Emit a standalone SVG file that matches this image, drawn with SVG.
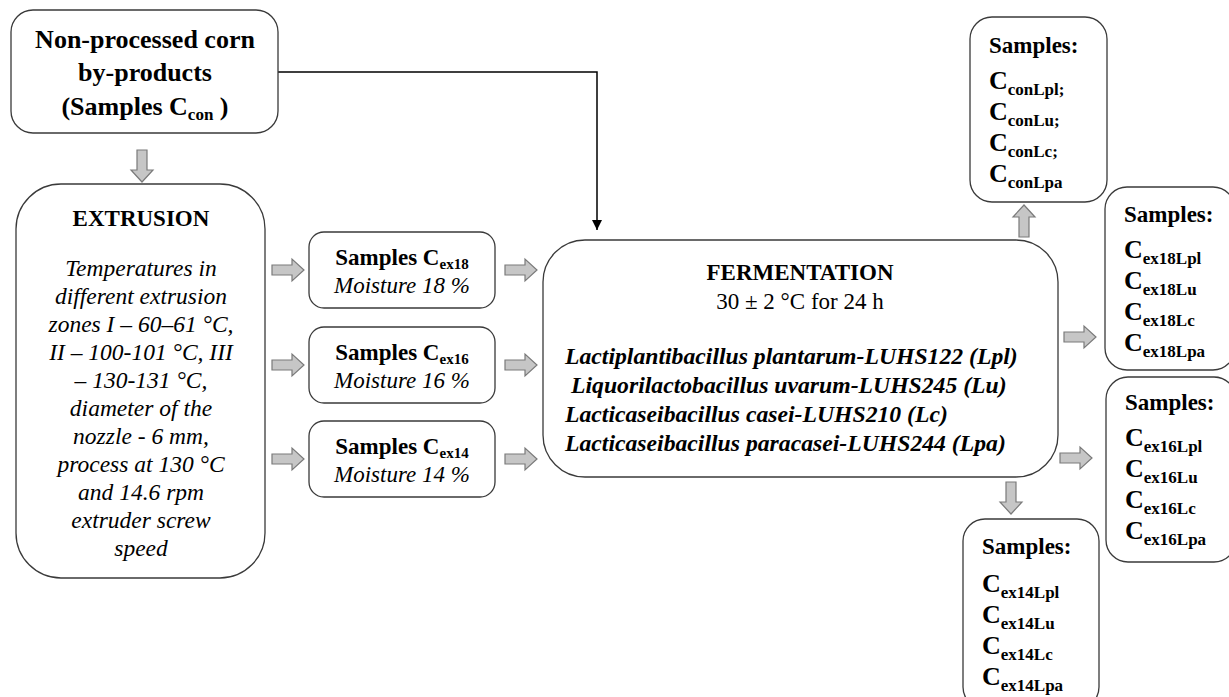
<svg xmlns="http://www.w3.org/2000/svg" width="1229" height="697" viewBox="0 0 1229 697" font-family="Liberation Serif, serif">
<defs>
<style>
.box{fill:#fff;stroke:#3a3a3a;stroke-width:1.3}
.blk{fill:#c6c6c6;stroke:#7a7a7a;stroke-width:1.2}
.b{font-weight:bold}
.i{font-style:italic}
.c{text-anchor:middle}
.conn{fill:none;stroke:#000;stroke-width:1.5}
</style>
<path id="ra" d="M0,-5 H20 V-11 L32,0 L20,11 V5 H0 Z"/>
<marker id="ah" markerWidth="12" markerHeight="12" refX="10" refY="6" orient="auto" markerUnits="userSpaceOnUse">
<path d="M0,1 L10,6 L0,11 Z" fill="#000"/>
</marker>
</defs>
<rect width="1229" height="697" fill="#fff"/>

<g id="connectors">
<path class="conn" d="M278,72 H597 V230" marker-end="url(#ah)"/>
<use href="#ra" class="blk" transform="translate(142,150) rotate(90)"/>
<use href="#ra" class="blk" transform="translate(272,270)"/>
<use href="#ra" class="blk" transform="translate(272,365)"/>
<use href="#ra" class="blk" transform="translate(272,459)"/>
<use href="#ra" class="blk" transform="translate(505,270)"/>
<use href="#ra" class="blk" transform="translate(505,365)"/>
<use href="#ra" class="blk" transform="translate(505,459)"/>
<use href="#ra" class="blk" transform="translate(1024,237) rotate(-90)"/>
<use href="#ra" class="blk" transform="translate(1064,337)"/>
<use href="#ra" class="blk" transform="translate(1060,458)"/>
<use href="#ra" class="blk" transform="translate(1011,482) rotate(90)"/>
</g>

<g id="node-noncorn">
<rect class="box" x="11" y="10" width="267" height="123" rx="22"/>
<text class="b c" font-size="26" x="145" y="48">Non-processed corn</text>
<text class="b c" font-size="26" x="145" y="81">by-products</text>
<text class="b c" font-size="26" x="145" y="115">(Samples C<tspan font-size="17" dy="5">con</tspan><tspan dy="-5"> )</tspan></text>
</g>

<g id="node-extrusion">
<rect class="box" x="16" y="184" width="249" height="394" rx="45"/>
<text class="b c" font-size="23" x="141" y="226">EXTRUSION</text>
<g class="i c" font-size="23.5">
<text x="141" y="276">Temperatures in</text>
<text x="141" y="304">different extrusion</text>
<text x="141" y="332">zones I – 60–61 °C,</text>
<text x="141" y="360">II – 100-101 °C, III</text>
<text x="141" y="388">– 130-131 °C,</text>
<text x="141" y="416">diameter of the</text>
<text x="141" y="444">nozzle - 6 mm,</text>
<text x="141" y="472">process at 130 °C</text>
<text x="141" y="500">and 14.6 rpm</text>
<text x="141" y="528">extruder screw</text>
<text x="141" y="556">speed</text>
</g>
</g>

<g id="node-cex18">
<rect class="box" x="309" y="232" width="186" height="76" rx="15"/>
<text class="b c" font-size="23" x="402" y="265">Samples C<tspan font-size="15" dy="4">ex18</tspan></text>
<text class="i c" font-size="23" x="402" y="293">Moisture 18 %</text>
</g>
<g id="node-cex16">
<rect class="box" x="309" y="327" width="186" height="76" rx="15"/>
<text class="b c" font-size="23" x="402" y="360">Samples C<tspan font-size="15" dy="4">ex16</tspan></text>
<text class="i c" font-size="23" x="402" y="388">Moisture 16 %</text>
</g>
<g id="node-cex14">
<rect class="box" x="309" y="421" width="186" height="76" rx="15"/>
<text class="b c" font-size="23" x="402" y="454">Samples C<tspan font-size="15" dy="4">ex14</tspan></text>
<text class="i c" font-size="23" x="402" y="482">Moisture 14 %</text>
</g>

<g id="node-fermentation">
<rect class="box" x="543" y="240" width="515" height="237" rx="42"/>
<text class="b c" font-size="23" x="800" y="280">FERMENTATION</text>
<text class="c" font-size="23" x="800" y="309">30 ± 2 °C for 24 h</text>
<g class="b i" font-size="23.7">
<text x="565" y="364">Lactiplantibacillus plantarum-LUHS122 (Lpl)</text>
<text x="571" y="393">Liquorilactobacillus uvarum-LUHS245 (Lu)</text>
<text x="565" y="422">Lacticaseibacillus casei-LUHS210 (Lc)</text>
<text x="565" y="451">Lacticaseibacillus paracasei-LUHS244 (Lpa)</text>
</g>
</g>

<g id="node-ccon">
<rect class="box" x="970" y="17" width="137" height="185" rx="22"/>
<g class="b" font-size="23">
<text x="989" y="53">Samples:</text>
<text x="989" y="89" font-size="26">C<tspan font-size="17" dy="6">conLpl;</tspan></text>
<text x="989" y="120" font-size="26">C<tspan font-size="17" dy="6">conLu;</tspan></text>
<text x="989" y="151" font-size="26">C<tspan font-size="17" dy="6">conLc;</tspan></text>
<text x="989" y="182" font-size="26">C<tspan font-size="17" dy="6">conLpa</tspan></text>
</g>
</g>

<g id="node-cex18-out">
<rect class="box" x="1105" y="187" width="130" height="183" rx="22"/>
<g class="b" font-size="23">
<text x="1124" y="222">Samples:</text>
<text x="1124" y="258" font-size="26">C<tspan font-size="17" dy="6">ex18Lpl</tspan></text>
<text x="1124" y="289" font-size="26">C<tspan font-size="17" dy="6">ex18Lu</tspan></text>
<text x="1124" y="320" font-size="26">C<tspan font-size="17" dy="6">ex18Lc</tspan></text>
<text x="1124" y="351" font-size="26">C<tspan font-size="17" dy="6">ex18Lpa</tspan></text>
</g>
</g>

<g id="node-cex16-out">
<rect class="box" x="1106" y="377" width="130" height="185" rx="22"/>
<g class="b" font-size="23">
<text x="1125" y="410">Samples:</text>
<text x="1125" y="446" font-size="26">C<tspan font-size="17" dy="6">ex16Lpl</tspan></text>
<text x="1125" y="477" font-size="26">C<tspan font-size="17" dy="6">ex16Lu</tspan></text>
<text x="1125" y="508" font-size="26">C<tspan font-size="17" dy="6">ex16Lc</tspan></text>
<text x="1125" y="539" font-size="26">C<tspan font-size="17" dy="6">ex16Lpa</tspan></text>
</g>
</g>

<g id="node-cex14-out">
<rect class="box" x="963" y="519" width="136" height="190" rx="22"/>
<g class="b" font-size="23">
<text x="982" y="554">Samples:</text>
<text x="982" y="592" font-size="26">C<tspan font-size="17" dy="6">ex14Lpl</tspan></text>
<text x="982" y="623" font-size="26">C<tspan font-size="17" dy="6">ex14Lu</tspan></text>
<text x="982" y="654" font-size="26">C<tspan font-size="17" dy="6">ex14Lc</tspan></text>
<text x="982" y="685" font-size="26">C<tspan font-size="17" dy="6">ex14Lpa</tspan></text>
</g>
</g>
</svg>
